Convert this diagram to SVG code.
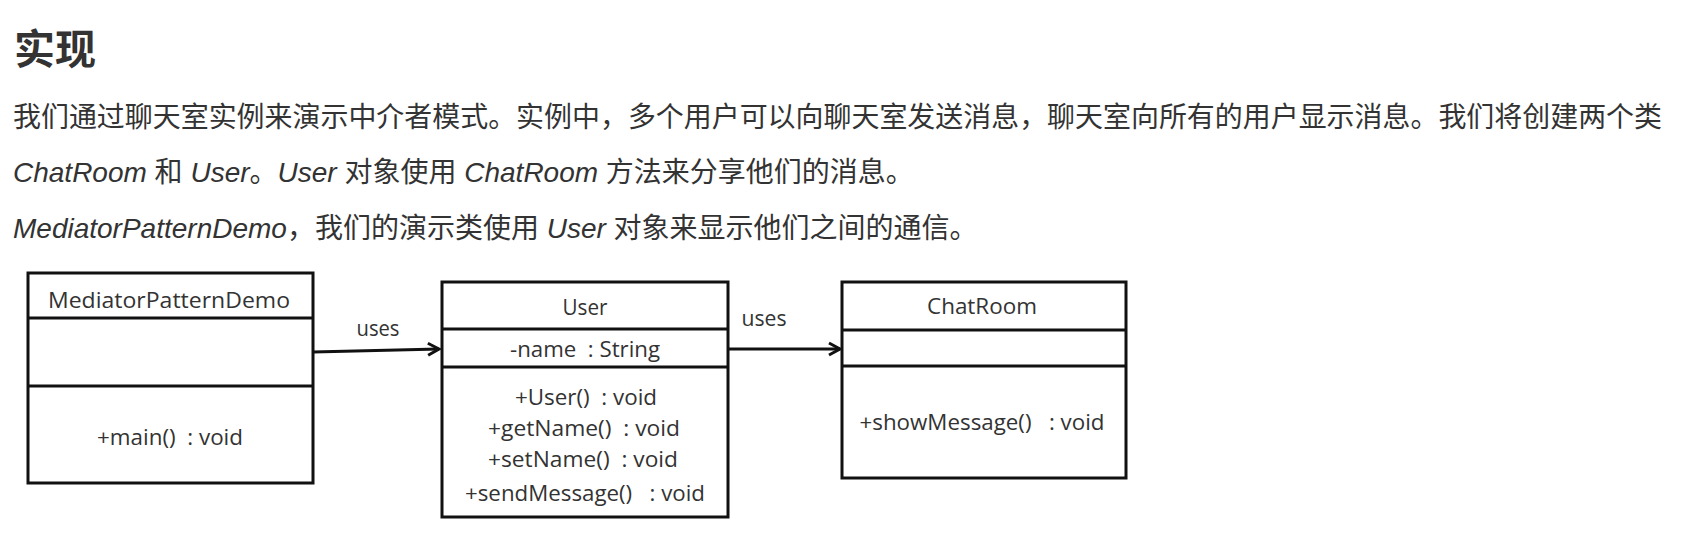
<svg xmlns="http://www.w3.org/2000/svg" width="1698" height="542" viewBox="0 0 1698 542">
<style>
.body{font-family:"Liberation Sans","Noto Sans CJK SC",sans-serif;font-size:28px;fill:#333}
.it{font-style:italic}
.title{font-family:"Liberation Sans","Noto Sans CJK SC",sans-serif;font-size:41px;font-weight:bold;fill:#333}
.box{fill:#fff;stroke:#111;stroke-width:3}
.div{stroke:#111;stroke-width:3}
.t{font-family:"Open Sans","Liberation Sans",sans-serif;font-size:22.5px;fill:#333;text-anchor:middle;white-space:pre}
.conn{stroke:#111;stroke-width:3;fill:none}
</style>
<defs>
<marker id="arr" markerUnits="userSpaceOnUse" markerWidth="20" markerHeight="20" refX="14" refY="8" orient="auto">
<path d="M3,2 L14,8 L3,14" fill="none" stroke="#111" stroke-width="3"/>
</marker>
</defs>
<rect width="1698" height="542" fill="#fff"/>
<g id="text">
<text class="title" x="14" y="64">实现</text>
<text class="body" x="13" y="127" textLength="1649" lengthAdjust="spacingAndGlyphs">我们通过聊天室实例来演示中介者模式。实例中，多个用户可以向聊天室发送消息，聊天室向所有的用户显示消息。我们将创建两个类</text>
<text class="body" x="13" y="182"><tspan class="it">ChatRoom</tspan> 和 <tspan class="it">User</tspan>。<tspan class="it">User</tspan> 对象使用 <tspan class="it">ChatRoom</tspan> 方法来分享他们的消息。</text>
<text class="body" x="13" y="238"><tspan class="it">MediatorPatternDemo</tspan>，我们的演示类使用 <tspan class="it">User</tspan> 对象来显示他们之间的通信。</text>
</g>
<g id="MediatorPatternDemo">
<rect class="box" x="28" y="273" width="285" height="210"/>
<line class="div" x1="28" y1="318" x2="313" y2="318"/>
<line class="div" x1="28" y1="386" x2="313" y2="386"/>
<text class="t" x="169" y="308" textLength="242" lengthAdjust="spacingAndGlyphs">MediatorPatternDemo</text>
<text class="t" x="170" y="445" textLength="146" lengthAdjust="spacingAndGlyphs">+main()  : void</text>
</g>
<g id="User">
<rect class="box" x="442" y="282" width="286" height="235"/>
<line class="div" x1="442" y1="329" x2="728" y2="329"/>
<line class="div" x1="442" y1="367" x2="728" y2="367"/>
<text class="t" x="585" y="315" textLength="45" lengthAdjust="spacingAndGlyphs">User</text>
<text class="t" x="585" y="357" textLength="150" lengthAdjust="spacingAndGlyphs">-name  : String</text>
<text class="t" x="586" y="405" textLength="142" lengthAdjust="spacingAndGlyphs">+User()  : void</text>
<text class="t" x="584" y="436" textLength="192" lengthAdjust="spacingAndGlyphs">+getName()  : void</text>
<text class="t" x="583" y="467" textLength="190" lengthAdjust="spacingAndGlyphs">+setName()  : void</text>
<text class="t" x="585" y="501" textLength="240" lengthAdjust="spacingAndGlyphs">+sendMessage()   : void</text>
</g>
<g id="ChatRoom">
<rect class="box" x="842" y="282" width="284" height="196"/>
<line class="div" x1="842" y1="330" x2="1126" y2="330"/>
<line class="div" x1="842" y1="366" x2="1126" y2="366"/>
<text class="t" x="982" y="314" textLength="110" lengthAdjust="spacingAndGlyphs">ChatRoom</text>
<text class="t" x="982" y="430" textLength="245" lengthAdjust="spacingAndGlyphs">+showMessage()   : void</text>
</g>
<g id="connectors">
<path class="conn" d="M313,352 L439,349" marker-end="url(#arr)"/>
<text class="t" x="378" y="336" textLength="43" lengthAdjust="spacingAndGlyphs">uses</text>
<path class="conn" d="M728,349 L840,349" marker-end="url(#arr)"/>
<text class="t" x="764" y="326" textLength="45" lengthAdjust="spacingAndGlyphs">uses</text>
</g>
</svg>
